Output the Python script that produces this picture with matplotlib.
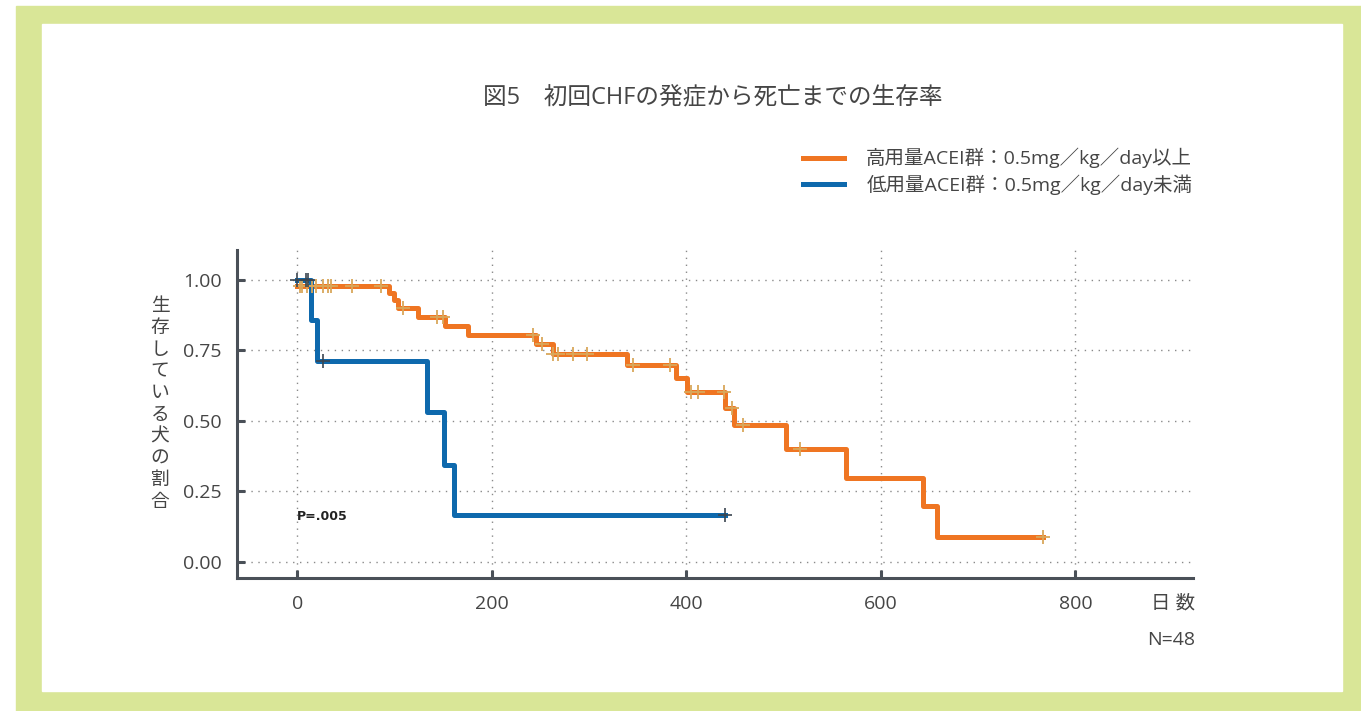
"""Kaplan-Meier survival after first CHF, by ACEI dose group."""

import numpy as np
from matplotlib import pyplot
from matplotlib.patches import Rectangle

# Step curves: times (days) and survival fractions.
hi_times = [0, 94, 99, 104, 124, 152, 176, 245, 263, 339, 389, 401, 440,
            449, 502, 564, 643, 658, 767]
hi_surv = [0.98, 0.954, 0.929, 0.90, 0.869, 0.837, 0.805, 0.773, 0.738,
           0.699, 0.652, 0.603, 0.546, 0.486, 0.40, 0.298, 0.199, 0.089,
           0.089]
hi_censor = [3, 5, 10, 15, 19, 26, 32, 35, 56, 86, 109, 144, 150, 242, 252,
             263, 268, 284, 298, 345, 383, 405, 412, 439, 447, 458, 517, 767]

lo_times = [0, 14, 20, 133, 151, 161, 440]
lo_surv = [1.0, 0.857, 0.714, 0.53, 0.345, 0.165, 0.165]
lo_censor = [0, 9, 11, 26, 440]

hi_label = '高用量ACEI群：0.5mg／kg／day以上'
lo_label = '低用量ACEI群：0.5mg／kg／day未満'
title = '図5　初回CHFの発症から死亡までの生存率'
ylabel = '生存している犬の割合'
xticks = [0, 200, 400, 600, 800]
yticks = [0.0, 0.25, 0.5, 0.75, 1.0]

orange = '#ef7522'
blue = '#0e69ad'
text_color = '#454545'
axis_color = '#4a5058'

pyplot.rcParams['font.family'] = ['Open Sans', 'Noto Sans CJK JP',
                                  'DejaVu Sans']

W, H = 1361, 711
fig = pyplot.figure(figsize=(W / 100, H / 100), dpi=100)

# Green frame with white panel.
fig.patches.append(Rectangle((16 / W, 0), 1 - 16 / W, 1 - 6 / H,
                             transform=fig.transFigure, color='#d9e697',
                             zorder=-2))
fig.patches.append(Rectangle((42 / W, (H - 691) / H), (1342 - 42) / W,
                             (691 - 24) / H, transform=fig.transFigure,
                             color='white', zorder=-1))

ax = fig.add_axes([237 / W, (H - 578) / H, (1193 - 237) / W, (578 - 250) / H])
ax.set_facecolor('none')


def step_value(times, surv, t):
    idx = np.searchsorted(times, t, side='right') - 1
    return np.asarray(surv)[idx]


ax.step(hi_times, hi_surv, where='post', color=orange, lw=3.6,
        label=hi_label, zorder=3)
ax.plot(hi_censor, step_value(hi_times, hi_surv, hi_censor), ls='none',
        marker='+', ms=10, mew=1.3, color='#d9a75a', zorder=4)
ax.step(lo_times, lo_surv, where='post', color=blue, lw=3.6,
        label=lo_label, zorder=3)
ax.plot(lo_censor, step_value(lo_times, lo_surv, lo_censor), ls='none',
        marker='+', ms=10, mew=1.2, color='#3b4650', zorder=4)

ax.set_xlim(-62, 921)
ax.set_ylim(-0.057, 1.106)
ax.set_xticks(xticks)
ax.set_yticks(yticks)
ax.set_yticklabels([f'{v:.2f}' for v in yticks])
ax.grid(True, color='#8a8a8a', linestyle=(0, (1, 4)), linewidth=1.0)
for side in ('top', 'right'):
    ax.spines[side].set_visible(False)
for side in ('left', 'bottom'):
    ax.spines[side].set_color(axis_color)
    ax.spines[side].set_linewidth(2.2)
ax.tick_params(direction='in', length=6, width=2.2, color=axis_color,
               labelsize=14, labelcolor=text_color)
ax.tick_params(axis='x', pad=12)
ax.tick_params(axis='y', pad=11)

ax.text(0, 0.16, 'P=.005', fontsize=9, fontweight='bold', color='#222222',
        va='center', ha='left', family='DejaVu Sans')

fig.text(713 / W, 1 - 97 / H, title, ha='center', va='center', fontsize=17,
         color=text_color)
fig.text(160 / W, 1 - 404 / H, '\n'.join(ylabel), ha='center', va='center',
         fontsize=13.5, color=text_color, linespacing=1.27)
fig.text(1195 / W, 1 - 603 / H, '日 数', ha='right', va='center', fontsize=14,
         color=text_color)
fig.text(1195 / W, 1 - 640 / H, 'N=48', ha='right', va='center', fontsize=14,
         color=text_color)

fig.legend(loc='upper left', bbox_to_anchor=(803 / W, 1 - 148 / H),
           frameon=False, fontsize=14, handlelength=2.1, handletextpad=1.15,
           labelspacing=0.3, borderpad=0, borderaxespad=0,
           labelcolor=text_color)

fig.savefig('out.png', dpi=100)
